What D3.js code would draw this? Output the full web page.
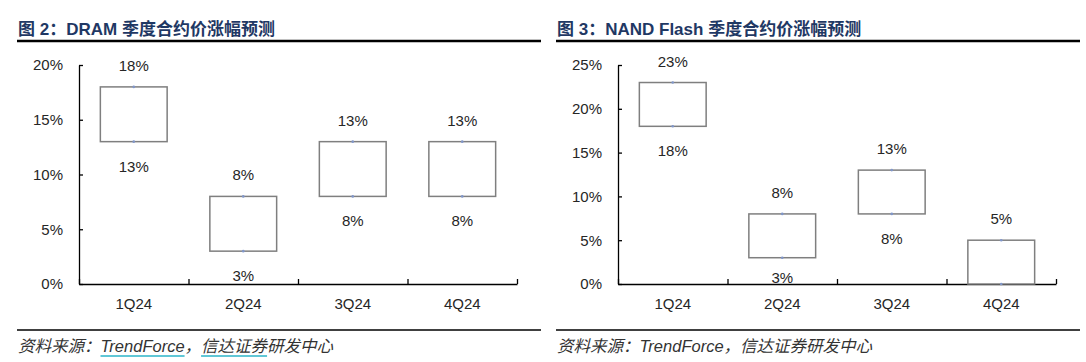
<!DOCTYPE html>
<html>
<head>
<meta charset="utf-8">
<script src="https://cdn.jsdelivr.net/npm/d3@7"></script>
<style>
  body { margin: 0; background: #fff; }
  svg { display: block; }
  .axis path, .axis line { stroke: #000; stroke-width: 1.3; }
  .axis text { font-family: "Liberation Sans", Arial, sans-serif; font-size: 15px; fill: #262626; }
</style>
</head>
<body>
<div class="chart"></div>
<script>
// data
const quarters = ["1Q24", "2Q24", "3Q24", "4Q24"];
const dramLow = [13, 3, 8, 8];
const dramHigh = [18, 8, 13, 13];
const nandLow = [18, 3, 8, 0];
const nandHigh = [23, 8, 13, 5];
const dramTicks = [0, 5, 10, 15, 20];
const nandTicks = [0, 5, 10, 15, 20, 25];

const svg = d3.select('.chart')
    .append('svg')
    .attr('width', 1086)
    .attr('height', 362);

function drawPanel(offsetX, title, low, high, ticks, underline) {
    const g = svg.append('g').attr('transform', `translate(${offsetX},0)`);

    // title + rules
    g.append('text')
        .attr('x', 18).attr('y', 35)
        .style('font-family', '"Liberation Sans", "Noto Sans CJK SC", sans-serif')
        .style('font-weight', 'bold')
        .style('font-size', '17px')
        .style('fill', '#1f3864')
        .text(title);
    g.append('line').attr('x1', 17).attr('x2', 541).attr('y1', 41).attr('y2', 41)
        .attr('stroke', '#000').attr('stroke-width', 2.5);
    g.append('line').attr('x1', 17).attr('x2', 541).attr('y1', 330).attr('y2', 330)
        .attr('stroke', '#000').attr('stroke-width', 1.5);

    const left = 79, right = 517, top = 65, bottom = 284;

    const x = d3.scaleBand().domain(quarters).range([left, right]);
    const xEdge = d3.scaleLinear().domain([0, quarters.length]).range([left, right]);
    const y = d3.scaleLinear().domain([0, d3.max(ticks)]).range([bottom, top]);

    // y axis
    g.append('g')
        .attr('class', 'axis')
        .attr('transform', `translate(${left},0)`)
        .call(d3.axisLeft(y).tickValues(ticks).tickFormat(d => d + '%')
            .tickSizeInner(-4).tickSizeOuter(0).tickPadding(16))
        .call(a => a.selectAll('.tick line').attr('stroke-width', 1));

    // x axis: ticks at band edges
    g.append('g')
        .attr('class', 'axis')
        .attr('transform', `translate(0,${bottom})`)
        .call(d3.axisBottom(xEdge).tickValues(d3.range(quarters.length + 1))
            .tickSizeInner(-5).tickSizeOuter(0).tickFormat(''));
    g.append('g')
        .attr('class', 'axis')
        .attr('transform', `translate(0,${bottom})`)
        .call(d3.axisBottom(x).tickSize(0).tickPadding(14))
        .call(a => a.select('.domain').remove());

    const rows = quarters.map((q, i) => ({q: q, low: low[i], high: high[i]}));
    const bw = x.bandwidth() * 0.61;

    g.append('g').selectAll('rect')
        .data(rows)
        .enter()
        .append('rect')
            .attr('x', d => x(d.q) + (x.bandwidth() - bw) / 2)
            .attr('y', d => y(d.high))
            .attr('width', bw)
            .attr('height', d => y(d.low) - y(d.high))
            .attr('fill', '#fff')
            .attr('stroke', '#7f7f7f')
            .attr('stroke-width', 1.5);

    // small markers at the ends
    const ends = rows.flatMap(d => [{q: d.q, v: d.low}, {q: d.q, v: d.high}]);
    g.append('g').selectAll('circle')
        .data(ends)
        .enter()
        .append('circle')
            .attr('cx', d => x(d.q) + x.bandwidth() / 2)
            .attr('cy', d => y(d.v))
            .attr('r', 1.3)
            .attr('fill', '#8096c8');

    const lblFont = '"Liberation Sans", Arial, sans-serif';
    g.append('g').selectAll('text')
        .data(rows)
        .enter()
        .append('text')
            .attr('x', d => x(d.q) + x.bandwidth() / 2)
            .attr('y', d => y(d.high) - 16)
            .attr('text-anchor', 'middle')
            .style('font-family', lblFont).style('font-size', '15px').style('fill', '#262626')
            .text(d => d.high + '%');
    g.append('g').selectAll('text')
        .data(rows.filter(d => d.low > 0))
        .enter()
        .append('text')
            .attr('x', d => x(d.q) + x.bandwidth() / 2)
            .attr('y', d => Math.min(y(d.low) + 30, bottom - 1))
            .attr('text-anchor', 'middle')
            .style('font-family', lblFont).style('font-size', '15px').style('fill', '#262626')
            .text(d => d.low + '%');

    // source line
    const src = g.append('text')
        .attr('x', 18).attr('y', 352)
        .style('font-family', '"Noto Sans CJK SC", sans-serif')
        .style('font-style', 'italic')
        .style('font-size', '16.5px')
        .style('fill', '#333');
    src.append('tspan').text('资料来源：');
    const t1 = src.append('tspan').style('font-family', '"Liberation Sans", Arial, sans-serif').text('TrendForce');
    src.append('tspan').text('，');
    const t2 = src.append('tspan').text('信达证券');
    src.append('tspan').text('研发中心');

    if (underline) {
        [t1, t2].forEach(t => {
            const n = t.node();
            const start = n.getStartPositionOfChar(0).x;
            const end = n.getEndPositionOfChar(n.getNumberOfChars() - 1).x;
            g.append('line').attr('x1', start).attr('x2', end)
                .attr('y1', 356).attr('y2', 356)
                .attr('stroke', '#2bb5c8').attr('stroke-width', 1.5);
        });
    }
}

drawPanel(0, '图 2：DRAM 季度合约价涨幅预测', dramLow, dramHigh, dramTicks, true);
drawPanel(539, '图 3：NAND Flash 季度合约价涨幅预测', nandLow, nandHigh, nandTicks, false);
</script>
</body>
</html>
